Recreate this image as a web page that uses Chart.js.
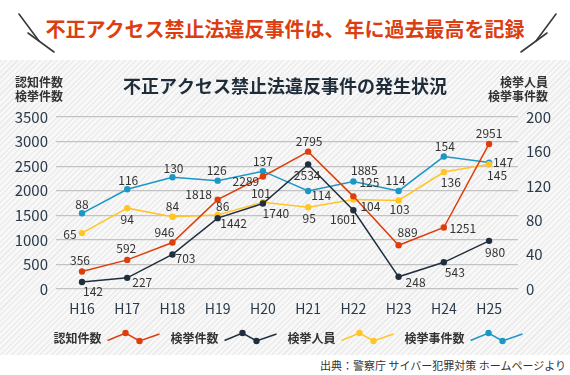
<!DOCTYPE html>
<html lang="ja">
<head>
<meta charset="utf-8">
<script src="https://cdn.jsdelivr.net/npm/chart.js@4.4.1/dist/chart.umd.min.js"></script>
<style>
  body { margin:0; width:570px; height:375px; background:#fff; font-family:"Noto Sans CJK JP", sans-serif; overflow:hidden; position:relative; }
  #head { position:absolute; left:0; top:0; width:570px; height:60px; }
  #head h1 { margin:0; position:absolute; left:0; right:0; top:16px; text-align:center; font-size:20px; line-height:26px; font-weight:bold; color:#db3e10; }
  #head svg { position:absolute; left:0; top:0; }
  #panel { position:absolute; left:0; top:60px; width:570px; height:295px;
    background: repeating-linear-gradient(135deg, #ececec 0 1.5px, #f8f8f8 1.5px 4px); }
  #source { position:absolute; right:4px; top:357px; font-size:11px; line-height:16px; color:#333; }
</style>
</head>
<body>
<div id="head">
  <svg width="570" height="60">
    <g stroke="#3a3a3a" stroke-width="1.6" stroke-linecap="round">
      <line x1="19" y1="14" x2="39" y2="41"/>
      <line x1="28" y1="33" x2="54" y2="52"/>
      <line x1="556" y1="14" x2="536" y2="41"/>
      <line x1="547" y1="33" x2="521" y2="52"/>
    </g>
  </svg>
  <h1>不正アクセス禁止法違反事件は、年に過去最高を記録</h1>
</div>
<div id="panel"><canvas id="linechart" width="570" height="295"></canvas></div>
<div id="source">出典：警察庁 サイバー犯罪対策 ホームページより</div>
<script>
/* Data */
const xLabels = ['H16','H17','H18','H19','H20','H21','H22','H23','H24','H25'];
const ninchi = [356, 592, 946, 1818, 2289, 2795, 1885, 889, 1251, 2951];     // 認知件数
const kenkyo = [142, 227, 703, 1442, 1740, 2534, 1601, 248, 543, 980];      // 検挙件数
const jinin = [65, 94, 84, 86, 101, 95, 104, 103, 136, 145];                // 検挙人員
const jikensu = [88, 116, 130, 126, 137, 114, 125, 114, 154, 147];          // 検挙事件数
const seriesNames = ['認知件数','検挙件数','検挙人員','検挙事件数'];

/* Styles */
const colors = ['#dc3e0c', '#1f2f3e', '#ffc526', '#1b97c6'];
const font = '"Noto Sans CJK JP", sans-serif';
const tickColor = '#2a3a4a';

// where each value label sits relative to its point (dx, dy)
const labelOffsets = [
  [[-2,-11],[-1,-11],[-8,-10],[-19,-5],[-17,5],[1,-10],[11,-26],[9,-13],[19,1],[0,-11]],
  [[11,9],[15,5],[13,4],[16,5],[13,10],[-1,11],[-10,9],[17,6],[11,10],[6,12]],
  [[-12,1],[0,11],[0,-10],[5,-9],[-2,-9],[1,11],[17,7],[1,9],[7,10],[8,11]],
  [[0,-9],[1,-9],[1,-9],[-1,-10],[0,-10],[13,4],[16,1],[-3,-11],[1,-10],[14,0]]
];

function toPoints(values){
  return values.map((v,i)=>({x:i, y:v}));
}

// value labels next to every point
const pointLabels = {
  id:'pointLabels',
  afterDatasetsDraw(chart){
    const ctx = chart.ctx;
    ctx.save();
    ctx.font = '12px ' + font;
    ctx.fillStyle = '#333';
    ctx.textAlign = 'center';
    ctx.textBaseline = 'middle';
    chart.data.datasets.forEach((ds,i)=>{
      chart.getDatasetMeta(i).data.forEach((pt,j)=>{
        const off = labelOffsets[i][j];
        ctx.fillText(String(ds.data[j].y), pt.x+off[0], pt.y+off[1]);
      });
    });
    ctx.restore();
  }
};

// chart title, axis captions and the zig-zag legend
const decorations = {
  id:'decorations',
  afterDraw(chart){
    const ctx = chart.ctx;
    ctx.save();
    ctx.fillStyle = '#1f2d3b';
    ctx.font = 'bold 18px ' + font;
    ctx.textAlign = 'center';
    ctx.textBaseline = 'middle';
    ctx.fillText('不正アクセス禁止法違反事件の発生状況', 285, 26);

    ctx.fillStyle = '#333';
    ctx.font = 'bold 12px ' + font;
    ctx.textAlign = 'left';
    ctx.fillText('認知件数', 15, 22);
    ctx.fillText('検挙件数', 15, 36);
    ctx.textAlign = 'right';
    ctx.fillText('検挙人員', 548, 22);
    ctx.fillText('検挙事件数', 548, 36);

    // legend
    const midY = 277;
    const iconW = 52, textGap = 6, itemGap = 11;
    ctx.font = 'bold 12px ' + font;
    ctx.textAlign = 'left';
    let total = 0;
    seriesNames.forEach((n,i)=>{
      total += ctx.measureText(n).width + textGap + iconW + (i<seriesNames.length-1 ? itemGap : 0);
    });
    let x = 288 - total/2;
    seriesNames.forEach((n,i)=>{
      ctx.fillStyle = '#333';
      ctx.fillText(n, x, midY+1);
      x += ctx.measureText(n).width + textGap;
      const pts = [[x, midY+3.5],[x+18, midY-4],[x+32, midY+4],[x+iconW, midY-3]];
      ctx.strokeStyle = colors[i];
      ctx.lineWidth = 1.5;
      ctx.beginPath();
      pts.forEach((p,k)=> k ? ctx.lineTo(p[0],p[1]) : ctx.moveTo(p[0],p[1]));
      ctx.stroke();
      ctx.fillStyle = colors[i];
      [pts[1],pts[2]].forEach(p=>{
        ctx.beginPath();
        ctx.arc(p[0], p[1], 3.2, 0, Math.PI*2);
        ctx.fill();
      });
      x += iconW + itemGap;
    });
    ctx.restore();
  }
};

const datasetValues = [ninchi, kenkyo, jinin, jikensu];
const axisIds = ['yLeft','yLeft','yRight','yRight'];

new Chart('linechart',{
  type:'line',
  data:{
    datasets: datasetValues.map((vals,i)=>({
      label: seriesNames[i],
      data: toPoints(vals),
      yAxisID: axisIds[i],
      borderColor: colors[i],
      backgroundColor: colors[i],
      pointBackgroundColor: colors[i],
      pointBorderWidth: 0,
      borderWidth: 1.5,
      pointRadius: 3.2,
      fill: false,
      tension: 0
    }))
  },
  options:{
    responsive:false,
    animation:false,
    layout:{ padding:{ top:57, left:0, right:0, bottom:0 } },
    plugins:{
      legend:{ display:false },
      tooltip:{ enabled:false },
      title:{ display:false }
    },
    scales:{
      x:{
        type:'linear',
        min:-0.575,
        max:9.64,
        afterBuildTicks:(scale)=>{ scale.ticks = xLabels.map((l,i)=>({value:i})); },
        afterFit:(scale)=>{ scale.height = 66; },
        grid:{ display:false, drawTicks:false },
        border:{ display:false },
        ticks:{
          autoSkip:false,
          maxRotation:0,
          padding:11,
          color:tickColor,
          font:{ family:font, size:14 },
          callback:(v)=>xLabels[v]
        }
      },
      yLeft:{
        position:'left',
        min:0,
        max:3500,
        afterFit:(scale)=>{ scale.width = 56; },
        grid:{ color:'#c2c2c2', lineWidth:1.2, drawTicks:false },
        border:{ display:false },
        ticks:{ stepSize:500, padding:8, color:tickColor, font:{ family:font, size:15 }, callback:(v)=>String(v) }
      },
      yRight:{
        position:'right',
        min:0,
        max:200,
        afterFit:(scale)=>{ scale.width = 52; },
        grid:{ display:false, drawTicks:false },
        border:{ display:false },
        ticks:{ stepSize:20, padding:8, color:tickColor, font:{ family:font, size:15 }, callback:(v)=>String(v) }
      }
    }
  },
  plugins:[pointLabels, decorations]
});
</script>
</body>
</html>
